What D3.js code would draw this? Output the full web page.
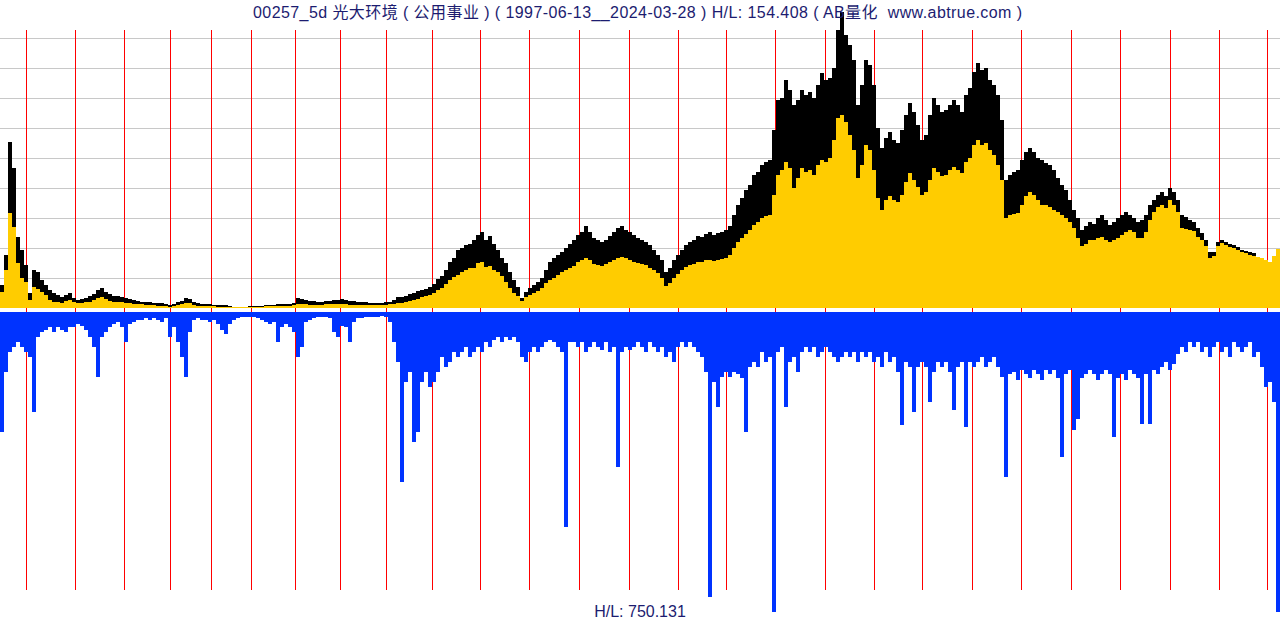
<!DOCTYPE html>
<html><head><meta charset="utf-8">
<script src="https://cdn.jsdelivr.net/npm/d3@7/dist/d3.min.js"></script>
<style>html,body{margin:0;padding:0;background:#fff;overflow:hidden}svg{display:block}text{white-space:pre}</style>
</head><body>
<svg id="chart" width="1280" height="620"></svg>
<script>
// ---- data ----
const titleText = "00257_5d 光大环境 ( 公用事业 ) ( 1997-06-13__2024-03-28 ) H/L: 154.408 ( AB量化  www.abtrue.com )";
const volLabel = "H/L: 750.131";
const sampleStep = 4; // each sample covers 4 five-day bars
const totalBars = 1280;
// year starts, as five-day bar index
const yearLabels = ["1998","1999","2000","2001","2002","2003","2004","2005","2006","2007","2008","2009","2010","2011","2012","2013","2014","2015","2016","2017","2018","2019","2020","2021","2022","2023","2024"];
const yearBars = [26,75,124,170,211,251,295,340,386,432,480,529,579,629,678,726,775,825,874,922,972,1021,1071,1120,1170,1219,1267];
const gridValues = [30,60,90,120,150,180,210,240,270];
// high (relative price)
const highs = [23,53,166,140,71,58,43,15,38,36,28,23,18,15,13,11,13,15,10,8,9,10,12,14,18,20,16,14,12,12,11,10,9,8,7,6,6,6,5,5,5,4,3,4,6,7,10,9,6,5,4,4,4,3,3,3,3,2,1,1,1,1,2,2,2,2,3,3,3,4,4,4,4,5,10,9,8,7,7,6,6,7,7,8,8,9,8,7,7,6,6,6,5,5,5,5,6,6,8,11,11,12,14,15,17,18,19,21,24,29,32,38,46,50,58,60,63,64,68,73,76,68,72,64,58,50,45,36,28,21,10,16,20,23,26,30,38,46,50,53,56,60,64,68,73,76,82,76,70,68,66,68,72,76,80,82,78,76,73,70,68,66,63,58,53,48,36,40,48,53,58,63,66,68,72,71,74,76,73,75,76,78,82,93,103,110,118,123,133,136,143,146,148,178,208,210,228,218,203,208,218,213,216,210,223,235,228,230,240,278,296,273,263,248,203,223,248,243,223,180,160,170,176,168,165,178,193,205,196,183,168,173,193,210,203,196,198,203,208,203,196,213,220,236,245,238,240,228,223,213,188,128,133,136,138,148,156,160,156,150,148,145,143,138,130,123,118,108,98,90,78,82,86,84,90,93,88,83,86,90,93,96,93,90,86,88,93,103,108,113,116,112,120,116,108,93,91,88,86,80,75,68,56,56,66,68,66,64,63,61,58,57,56,55,51,50,48,46,52,59];
// close (relative price)
const closes = [16,38,95,81,45,30,26,8,21,19,16,13,8,6,6,5,7,8,6,5,5,6,6,8,10,11,9,7,6,6,6,5,5,4,4,4,3,3,3,2,2,2,1,2,3,4,5,5,3,2,2,2,2,2,1,1,1,1,1,1,1,1,1,1,1,1,2,2,2,2,2,2,2,3,4,4,4,3,3,3,3,4,4,4,4,4,4,3,3,3,3,3,3,3,3,3,3,4,4,5,5,6,7,8,9,11,12,13,15,18,20,24,28,31,33,36,38,40,40,45,46,41,42,38,36,32,26,20,15,12,7,11,13,15,17,20,25,28,30,33,36,38,40,42,46,48,50,48,44,43,42,44,46,48,50,51,50,48,46,45,44,43,40,38,35,30,22,25,30,34,38,41,43,44,46,46,48,48,47,48,49,50,53,60,66,70,74,78,83,86,90,92,93,113,133,138,146,140,120,130,140,136,138,133,143,148,146,150,168,190,193,186,173,158,130,143,163,158,138,110,98,108,112,108,106,113,126,135,128,121,113,116,128,140,136,132,133,138,141,138,135,146,150,163,168,163,165,158,153,143,128,90,93,94,95,103,112,116,113,108,103,103,101,98,96,93,90,86,80,70,62,64,68,68,70,71,68,66,68,70,73,76,78,76,70,70,76,88,96,101,103,100,108,103,96,80,79,78,77,71,68,62,50,52,62,65,63,61,60,58,56,55,53,52,51,50,48,46,52,59];
// volume (relative)
const volumes = [
120,60,40,35,30,35,40,45,100,25,
20,18,15,20,15,18,20,15,15,12,
14,18,25,35,65,25,20,15,12,10,
15,30,12,10,8,8,6,8,6,8,
10,6,25,15,30,45,65,20,8,6,
8,8,10,8,12,18,22,12,8,6,
5,5,5,5,6,8,10,12,10,30,
15,12,15,20,45,35,10,8,6,5,
5,5,6,20,25,14,15,30,10,6,
6,5,5,5,5,4,5,10,30,50,
170,70,60,130,120,70,60,75,70,60,
45,55,50,40,45,40,35,45,40,35,
40,30,35,28,25,30,25,28,25,30,
45,50,40,35,40,35,30,28,30,35,
40,215,30,30,35,30,40,35,30,35,
38,30,40,35,155,40,35,38,35,30,
35,40,30,35,40,35,45,40,50,35,
30,35,30,35,40,45,60,285,70,95,
65,60,65,60,62,66,120,55,50,55,
40,50,45,300,40,35,95,50,45,60,
40,35,40,35,45,40,35,40,45,50,
45,40,45,40,50,40,45,40,50,45,
55,40,50,45,60,113,50,55,100,55,
50,55,90,60,50,55,50,60,98,55,
50,115,50,55,50,45,55,50,45,55,
65,165,62,60,68,58,62,66,58,62,
68,58,62,58,66,145,62,58,118,107,
66,62,58,62,68,62,58,62,125,66,
62,68,58,62,66,112,62,112,58,62,
55,50,58,52,42,35,40,30,35,30,
40,35,45,35,30,40,35,45,30,35,
40,35,30,45,40,55,75,70,90,300];

// ---- drawing ----
const W = 1280, H = 620;
const svg = d3.select("#chart");
const priceBase = 308, priceTop = 12;
const volTop = 312, volMaxLen = 300;

const x = d3.scaleLinear().domain([0, totalBars]).range([0, W]);
const y = d3.scaleLinear().domain([0, d3.max(highs)]).range([priceBase, priceTop]);
const v = d3.scaleLinear().domain([0, d3.max(volumes)]).range([0, volMaxLen]);

// grid
svg.append("g").selectAll("line").data(gridValues).join("line")
  .attr("x1", 0).attr("x2", W)
  .attr("y1", d => Math.round(y(d)) + 0.5).attr("y2", d => Math.round(y(d)) + 0.5)
  .attr("stroke", "#c8c8c8").attr("stroke-width", 1);

// year lines
svg.append("g").selectAll("line").data(yearBars).join("line")
  .attr("x1", d => Math.round(x(d)) + 0.5).attr("x2", d => Math.round(x(d)) + 0.5)
  .attr("y1", 30).attr("y2", 590)
  .attr("stroke", "#ff0000").attr("stroke-width", 1);

function withEnd(arr){ const a = arr.map((d,i)=>({i:i*sampleStep, d})); a.push({i: totalBars, d: arr[arr.length-1]}); return a; }

const area = d3.area().curve(d3.curveStepAfter)
  .x(p => x(p.i)).y0(priceBase).y1(p => y(p.d));

svg.append("path").datum(withEnd(highs)).attr("d", area).attr("fill", "#000");
svg.append("path").datum(withEnd(closes)).attr("d", area).attr("fill", "#ffcc00");

// volume bars
svg.append("g").selectAll("rect").data(volumes).join("rect")
  .attr("x", (d,i) => x(i*sampleStep))
  .attr("width", x(sampleStep) - x(0))
  .attr("y", volTop)
  .attr("height", d => v(d))
  .attr("fill", "#0033ff");

// texts
svg.append("text").attr("x", 253).attr("y", 18)
  .attr("textLength", 769).attr("lengthAdjust", "spacing")
  .attr("font-family", "'Liberation Sans', 'Noto Sans CJK SC', sans-serif").attr("font-size", 16)
  .attr("fill", "#1c1c70").text(titleText);
svg.append("text").attr("x", 640).attr("y", 617).attr("text-anchor", "middle")
  .attr("font-family", "'Liberation Sans', sans-serif").attr("font-size", 16)
  .attr("fill", "#1c1c70").text(volLabel);
</script>
</body></html>
